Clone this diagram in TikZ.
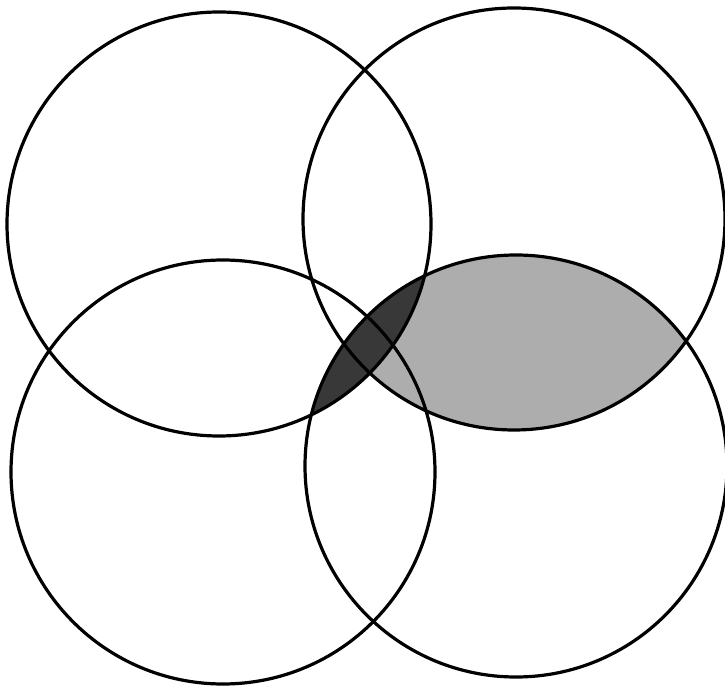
\documentclass[tikz,border=0pt]{standalone}
\usepackage{color}
\usepackage{tikz}
\usepackage{amsfonts}
\usepackage{amssymb}
\usepackage{amsmath}
\begin{document}
\begin{tikzpicture}[x=1pt,y=1pt]
\useasboundingbox (0,0) rectangle (725,688);
% objects at depth 60:
\begin{scope}
\clip (514,469) circle (211);
\path[fill=black!32] (516,222) circle (211);
\end{scope}
% objects at depth 55:
\begin{scope}
\clip (219,464) circle (212);
\path[fill=black!78] (516,222) circle (211);
\end{scope}
% objects at depth 50:
\path[draw=black,line width=3.2] (219,464) circle (212);
\path[draw=black,line width=3.2] (514,469) circle (211);
\path[draw=black,line width=3.2] (223,216) circle (212);
\path[draw=black,line width=3.2] (516,222) circle (211);
\end{tikzpicture}
\end{document}
